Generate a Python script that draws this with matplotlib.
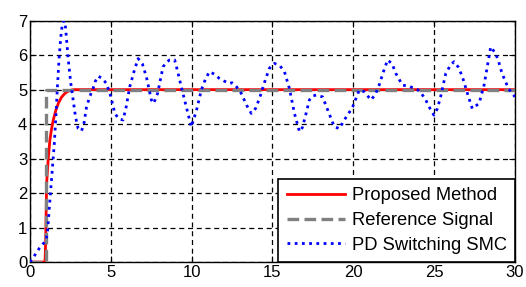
import matplotlib
matplotlib.use("Agg")
import matplotlib.pyplot as plt

plt.rcParams['font.family'] = ['Liberation Sans', 'DejaVu Sans']

# Reference step signal
ref_t = [0, 1.0, 1.0, 30]
ref_y = [0, 0, 5, 5]

# Proposed method response
prop_t = [0, 0.93, 0.97, 1.03, 1.13, 1.23, 1.33, 1.44, 1.6, 1.75, 1.95, 2.16, 2.35, 2.5, 2.7, 3.0, 30]
prop_y = [0, 0, 0.6, 2.28, 3.0, 3.53, 3.85, 4.12, 4.4, 4.6, 4.78, 4.89, 4.95, 4.98, 5.0, 5.0, 5.0]

# PD switching SMC response
smc_t = [0, 0.3, 0.55, 0.85, 1.0, 1.1, 1.2, 1.3, 1.4, 1.5, 1.6, 1.7, 1.8, 1.9, 2.0, 2.1, 2.2,
         2.37, 2.52, 2.67, 2.82, 2.98, 3.19, 3.35, 3.5, 3.7, 3.9, 4.05, 4.22, 4.45, 4.73, 5.0,
         5.25, 5.5, 5.76, 5.95, 6.17, 6.45, 6.69, 6.95, 7.2, 7.51, 7.65, 7.9, 8.23, 8.45, 8.64,
         8.95, 9.15, 9.36, 9.67, 9.98, 10.3, 10.6, 10.85, 11.1, 11.4, 11.7, 12.0, 12.35, 12.5,
         12.75, 13.07, 13.4, 13.69, 13.95, 14.2, 14.5, 14.81, 15.12, 15.45, 15.74, 16.05, 16.36,
         16.67, 16.85, 17.08, 17.28, 17.5, 17.7, 18.1, 18.5, 18.83, 19.14, 19.44, 19.7, 19.96,
         20.37, 20.68, 21.09, 21.35, 21.6, 21.85, 22.12, 22.4, 22.63, 23.04, 23.45, 23.97,
         24.2, 24.48, 24.75, 24.99, 25.2, 25.4, 25.72, 26.0, 26.23, 26.5, 26.75, 27.06, 27.36,
         27.78, 28.09, 28.3, 28.5, 28.8, 29.0, 29.2, 29.6, 30.0]
smc_y = [0, 0.2, 0.38, 0.55, 0.65, 0.95, 1.6, 2.2, 2.8, 3.4, 4.2, 5.1, 5.9, 6.5, 6.9, 7.0, 6.8,
         5.86, 5.2, 4.7, 4.2, 3.87, 3.8, 4.05, 4.5, 4.8, 5.03, 5.25, 5.39, 5.33, 5.18, 4.8,
         4.31, 4.15, 4.12, 4.5, 5.08, 5.55, 5.9, 5.75, 5.37, 4.7, 4.6, 4.9, 5.66, 5.8, 5.86,
         5.86, 5.5, 5.08, 4.5, 3.92, 4.4, 4.99, 5.3, 5.52, 5.45, 5.33, 5.25, 5.18, 5.2,
         5.1, 4.89, 4.55, 4.31, 4.45, 4.75, 5.2, 5.62, 5.76, 5.7, 5.52, 5.03, 4.31,
         3.78, 3.9, 4.31, 4.7, 4.82, 4.84, 4.79, 4.31, 3.92, 3.87, 4.12, 4.3, 4.5,
         4.99, 4.94, 4.7, 4.85, 5.13, 5.5, 5.86, 5.75, 5.47, 5.13, 5.1, 5.0,
         4.9, 4.7, 4.45, 4.26, 4.45, 4.79, 5.47, 5.7, 5.81, 5.65, 5.37, 4.89, 4.45,
         4.6, 5.13, 5.7, 6.24, 6.05, 5.8, 5.47, 5.03, 4.79]

x_ticks = [0, 5, 10, 15, 20, 25, 30]
y_ticks = [0, 1, 2, 3, 4, 5, 6, 7]

fig = plt.figure(figsize=(5.26, 2.87), dpi=100)
ax = fig.add_axes([0.057, 0.087, 0.922, 0.841])

ax.plot(prop_t, prop_y, color='#ff0000', lw=2.0, label='Proposed Method', zorder=3)
ax.plot(ref_t, ref_y, color='#808080', lw=2.4, dashes=(3.5, 1.6), label='Reference Signal', zorder=4)
ax.plot(smc_t, smc_y, color='#0000ff', lw=2.0, dashes=(1, 1.6), label='PD Switching SMC', zorder=5)

ax.set_xlim(0, 30)
ax.set_ylim(0, 7)
ax.set_xticks(x_ticks)
ax.set_yticks(y_ticks)
ax.tick_params(direction='in', length=4, width=0.8, labelsize=12, top=True, right=True, pad=2)
ax.grid(True, color='black', lw=0.9, linestyle=(0, (4, 3)))
for s in ax.spines.values():
    s.set_linewidth(1.0)

leg = ax.legend(loc='lower right', fontsize=13.2, handlelength=3.2, handletextpad=0.35,
                borderaxespad=0.0, labelspacing=0.42, borderpad=0.45, fancybox=False,
                framealpha=1.0, edgecolor='black')
leg.get_frame().set_linewidth(1.2)

fig.savefig('out.png', dpi=100)
